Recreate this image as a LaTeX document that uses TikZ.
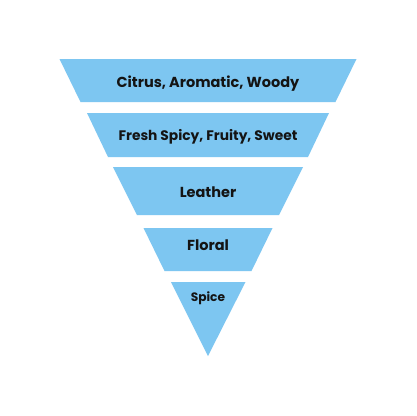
\documentclass[tikz,border=0pt]{standalone}
\usepackage{fontspec}
\setmainfont{Poppins}
\definecolor{skyblue}{HTML}{7DC6F1}
\definecolor{inkblack}{HTML}{141414}

\begin{document}
\begin{tikzpicture}[x=1pt, y=-1pt]
\tikzset{
  layer/.style={fill=skyblue},
  tag/.style={text=inkblack, font=\bfseries\fontsize{14.5}{16}\selectfont}
}

% Background
\fill[white] (0,0) rectangle (416,416);

% =========== Layers (top to bottom) ===========
\fill[layer] (59.5,59) -- (356.5,59) -- (335.5,102) -- (80.5,102) -- cycle;
\node[tag] (citrus) at (208,84) {Citrus, Aromatic, Woody};

\fill[layer] (87,113) -- (329,113) -- (308,157) -- (108,157) -- cycle;
\node[tag, font=\bfseries\fontsize{13.8}{15}\selectfont] (fresh) at (208,137) {Fresh Spicy, Fruity, Sweet};

\fill[layer] (113,167) -- (303,167) -- (279,215) -- (137,215) -- cycle;
\node[tag] (leather) at (208,192) {Leather};

\fill[layer] (143.5,228) -- (272.5,228) -- (251.5,271) -- (164.5,271) -- cycle;
\node[tag] (floral) at (208,245) {Floral};

% Tip
\fill[layer] (171,282) -- (245.5,282) -- (208,356) -- cycle;
\node[tag, font=\bfseries\fontsize{12.2}{13}\selectfont] (spice) at (208,298.5) {Spice};

\end{tikzpicture}
\end{document}
